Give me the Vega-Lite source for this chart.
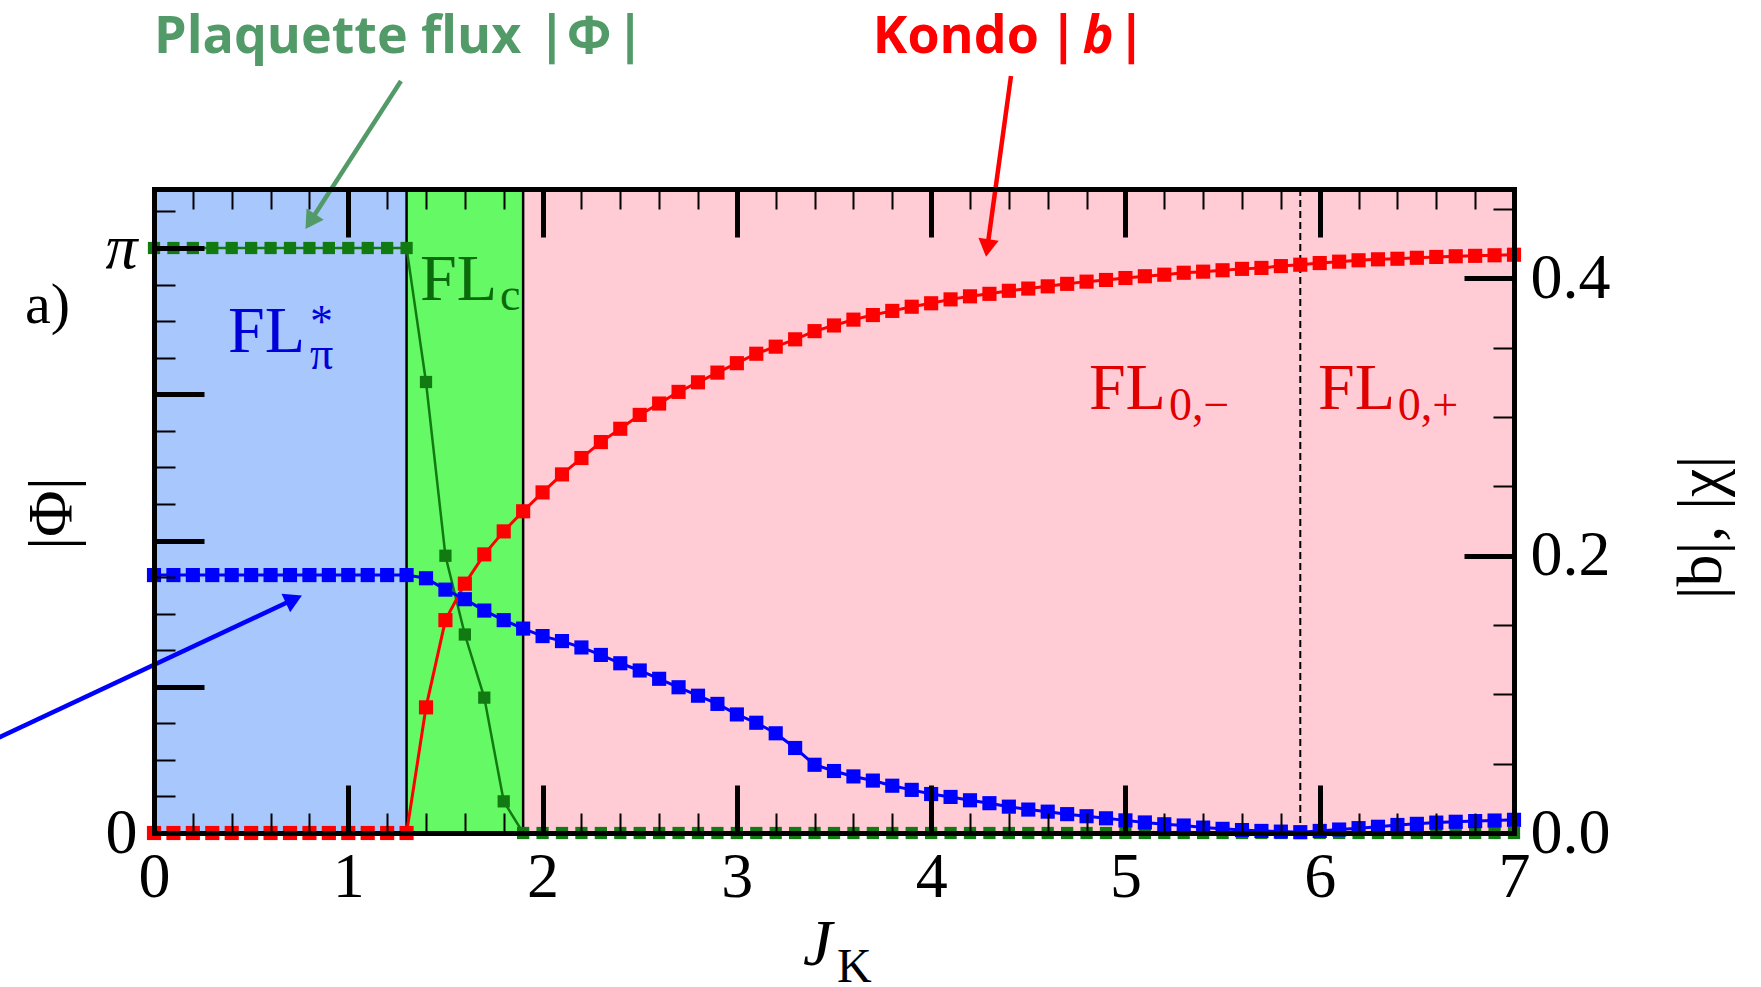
{
 "$schema": "https://vega.github.io/schema/vega-lite/v6.json",
 "width": 1360,
 "height": 644,
 "autosize": {"type": "none"},
 "padding": {"left": 154, "top": 189, "right": 247, "bottom": 154},
 "background": "white",
 "config": {
  "view": {"stroke": null},
  "axis": {"grid": false, "labelFont": "Liberation Serif", "titleFont": "Liberation Serif", "tickColor": "black", "domainColor": "black", "labelColor": "black", "titleColor": "black", "labelFlush": false, "labelOverlap": false, "labelBound": false, "titleFontWeight": "normal", "domainCap": "square"}
 },
 "resolve": {"scale": {"y": "independent", "color": "independent"}, "axis": {"x": "independent", "y": "independent"}},
 "datasets": {
  "regions": [
   {"x0": 0, "x1": 1.3, "phase": "pi"},
   {"x0": 1.3, "x1": 1.9, "phase": "c"},
   {"x0": 1.9, "x1": 5.9, "phase": "m"},
   {"x0": 5.9, "x1": 7, "phase": "p"}
  ],
  "series": [
   {"x":0,"s":"phi","v":3.1416},{"x":0.1,"s":"phi","v":3.1416},{"x":0.2,"s":"phi","v":3.1416},{"x":0.3,"s":"phi","v":3.1416},{"x":0.4,"s":"phi","v":3.1416},{"x":0.5,"s":"phi","v":3.1416},{"x":0.6,"s":"phi","v":3.1416},{"x":0.7,"s":"phi","v":3.1416},{"x":0.8,"s":"phi","v":3.1416},{"x":0.9,"s":"phi","v":3.1416},{"x":1.0,"s":"phi","v":3.1416},{"x":1.1,"s":"phi","v":3.1416},{"x":1.2,"s":"phi","v":3.1416},{"x":1.3,"s":"phi","v":3.1416},
   {"x":1.4,"s":"phi","v":2.422},{"x":1.5,"s":"phi","v":1.489},{"x":1.6,"s":"phi","v":1.066},{"x":1.7,"s":"phi","v":0.727},{"x":1.8,"s":"phi","v":0.17},
   {"x":1.9,"s":"phi","v":0},{"x":2.0,"s":"phi","v":0},{"x":2.1,"s":"phi","v":0},{"x":2.2,"s":"phi","v":0},{"x":2.3,"s":"phi","v":0},{"x":2.4,"s":"phi","v":0},{"x":2.5,"s":"phi","v":0},{"x":2.6,"s":"phi","v":0},{"x":2.7,"s":"phi","v":0},{"x":2.8,"s":"phi","v":0},{"x":2.9,"s":"phi","v":0},{"x":3.0,"s":"phi","v":0},{"x":3.1,"s":"phi","v":0},{"x":3.2,"s":"phi","v":0},{"x":3.3,"s":"phi","v":0},{"x":3.4,"s":"phi","v":0},{"x":3.5,"s":"phi","v":0},{"x":3.6,"s":"phi","v":0},{"x":3.7,"s":"phi","v":0},{"x":3.8,"s":"phi","v":0},{"x":3.9,"s":"phi","v":0},{"x":4.0,"s":"phi","v":0},{"x":4.1,"s":"phi","v":0},{"x":4.2,"s":"phi","v":0},{"x":4.3,"s":"phi","v":0},{"x":4.4,"s":"phi","v":0},{"x":4.5,"s":"phi","v":0},{"x":4.6,"s":"phi","v":0},{"x":4.7,"s":"phi","v":0},{"x":4.8,"s":"phi","v":0},{"x":4.9,"s":"phi","v":0},{"x":5.0,"s":"phi","v":0},{"x":5.1,"s":"phi","v":0},{"x":5.2,"s":"phi","v":0},{"x":5.3,"s":"phi","v":0},{"x":5.4,"s":"phi","v":0},{"x":5.5,"s":"phi","v":0},{"x":5.6,"s":"phi","v":0},{"x":5.7,"s":"phi","v":0},{"x":5.8,"s":"phi","v":0},{"x":5.9,"s":"phi","v":0},{"x":6.0,"s":"phi","v":0},{"x":6.1,"s":"phi","v":0},{"x":6.2,"s":"phi","v":0},{"x":6.3,"s":"phi","v":0},{"x":6.4,"s":"phi","v":0},{"x":6.5,"s":"phi","v":0},{"x":6.6,"s":"phi","v":0},{"x":6.7,"s":"phi","v":0},{"x":6.8,"s":"phi","v":0},{"x":6.9,"s":"phi","v":0},{"x":7.0,"s":"phi","v":0},
   {"x":0,"s":"b","v":0},{"x":0.1,"s":"b","v":0},{"x":0.2,"s":"b","v":0},{"x":0.3,"s":"b","v":0},{"x":0.4,"s":"b","v":0},{"x":0.5,"s":"b","v":0},{"x":0.6,"s":"b","v":0},{"x":0.7,"s":"b","v":0},{"x":0.8,"s":"b","v":0},{"x":0.9,"s":"b","v":0},{"x":1.0,"s":"b","v":0},{"x":1.1,"s":"b","v":0},{"x":1.2,"s":"b","v":0},{"x":1.3,"s":"b","v":0},
   {"x":1.4,"s":"b","v":0.0906},{"x":1.5,"s":"b","v":0.1535},{"x":1.6,"s":"b","v":0.1798},{"x":1.7,"s":"b","v":0.2009},{"x":1.8,"s":"b","v":0.2175},{"x":1.9,"s":"b","v":0.232},{"x":2.0,"s":"b","v":0.2456},{"x":2.1,"s":"b","v":0.2586},{"x":2.2,"s":"b","v":0.2704},{"x":2.3,"s":"b","v":0.2819},{"x":2.4,"s":"b","v":0.2915},{"x":2.5,"s":"b","v":0.3015},{"x":2.6,"s":"b","v":0.3097},{"x":2.7,"s":"b","v":0.3181},{"x":2.8,"s":"b","v":0.325},{"x":2.9,"s":"b","v":0.332},{"x":3.0,"s":"b","v":0.3388},{"x":3.1,"s":"b","v":0.3456},{"x":3.2,"s":"b","v":0.3507},{"x":3.3,"s":"b","v":0.356},{"x":3.4,"s":"b","v":0.3619},{"x":3.5,"s":"b","v":0.366},{"x":3.6,"s":"b","v":0.3702},{"x":3.7,"s":"b","v":0.3735},{"x":3.8,"s":"b","v":0.3765},{"x":3.9,"s":"b","v":0.3795},{"x":4.0,"s":"b","v":0.382},{"x":4.1,"s":"b","v":0.3848},{"x":4.2,"s":"b","v":0.387},{"x":4.3,"s":"b","v":0.3888},{"x":4.4,"s":"b","v":0.391},{"x":4.5,"s":"b","v":0.3926},{"x":4.6,"s":"b","v":0.3942},{"x":4.7,"s":"b","v":0.396},{"x":4.8,"s":"b","v":0.3976},{"x":4.9,"s":"b","v":0.3988},{"x":5.0,"s":"b","v":0.4002},{"x":5.1,"s":"b","v":0.4015},{"x":5.2,"s":"b","v":0.4026},{"x":5.3,"s":"b","v":0.404},{"x":5.4,"s":"b","v":0.4048},{"x":5.5,"s":"b","v":0.4058},{"x":5.6,"s":"b","v":0.4068},{"x":5.7,"s":"b","v":0.4075},{"x":5.8,"s":"b","v":0.4088},{"x":5.9,"s":"b","v":0.4098},{"x":6.0,"s":"b","v":0.411},{"x":6.1,"s":"b","v":0.412},{"x":6.2,"s":"b","v":0.413},{"x":6.3,"s":"b","v":0.4137},{"x":6.4,"s":"b","v":0.4141},{"x":6.5,"s":"b","v":0.4148},{"x":6.6,"s":"b","v":0.4154},{"x":6.7,"s":"b","v":0.4159},{"x":6.8,"s":"b","v":0.4162},{"x":6.9,"s":"b","v":0.4166},{"x":7.0,"s":"b","v":0.417},
   {"x":0,"s":"chi","v":0.186},{"x":0.1,"s":"chi","v":0.186},{"x":0.2,"s":"chi","v":0.186},{"x":0.3,"s":"chi","v":0.186},{"x":0.4,"s":"chi","v":0.186},{"x":0.5,"s":"chi","v":0.186},{"x":0.6,"s":"chi","v":0.186},{"x":0.7,"s":"chi","v":0.186},{"x":0.8,"s":"chi","v":0.186},{"x":0.9,"s":"chi","v":0.186},{"x":1.0,"s":"chi","v":0.186},{"x":1.1,"s":"chi","v":0.186},{"x":1.2,"s":"chi","v":0.186},{"x":1.3,"s":"chi","v":0.186},
   {"x":1.4,"s":"chi","v":0.1837},{"x":1.5,"s":"chi","v":0.1755},{"x":1.6,"s":"chi","v":0.1686},{"x":1.7,"s":"chi","v":0.1604},{"x":1.8,"s":"chi","v":0.1535},{"x":1.9,"s":"chi","v":0.1474},{"x":2.0,"s":"chi","v":0.142},{"x":2.1,"s":"chi","v":0.1384},{"x":2.2,"s":"chi","v":0.1338},{"x":2.3,"s":"chi","v":0.1284},{"x":2.4,"s":"chi","v":0.1224},{"x":2.5,"s":"chi","v":0.1172},{"x":2.6,"s":"chi","v":0.1112},{"x":2.7,"s":"chi","v":0.1051},{"x":2.8,"s":"chi","v":0.099},{"x":2.9,"s":"chi","v":0.0931},{"x":3.0,"s":"chi","v":0.0855},{"x":3.1,"s":"chi","v":0.0795},{"x":3.2,"s":"chi","v":0.0719},{"x":3.3,"s":"chi","v":0.0613},{"x":3.4,"s":"chi","v":0.0492},{"x":3.5,"s":"chi","v":0.0447},{"x":3.6,"s":"chi","v":0.0408},{"x":3.7,"s":"chi","v":0.0378},{"x":3.8,"s":"chi","v":0.0341},{"x":3.9,"s":"chi","v":0.0311},{"x":4.0,"s":"chi","v":0.0281},{"x":4.1,"s":"chi","v":0.026},{"x":4.2,"s":"chi","v":0.0236},{"x":4.3,"s":"chi","v":0.0215},{"x":4.4,"s":"chi","v":0.019},{"x":4.5,"s":"chi","v":0.0169},{"x":4.6,"s":"chi","v":0.0154},{"x":4.7,"s":"chi","v":0.0136},{"x":4.8,"s":"chi","v":0.0121},{"x":4.9,"s":"chi","v":0.0106},{"x":5.0,"s":"chi","v":0.0091},{"x":5.1,"s":"chi","v":0.0076},{"x":5.2,"s":"chi","v":0.0063},{"x":5.3,"s":"chi","v":0.0054},{"x":5.4,"s":"chi","v":0.0039},{"x":5.5,"s":"chi","v":0.003},{"x":5.6,"s":"chi","v":0.0021},{"x":5.7,"s":"chi","v":0.0015},{"x":5.8,"s":"chi","v":0.001},{"x":5.9,"s":"chi","v":0.0006},{"x":6.0,"s":"chi","v":0.0015},{"x":6.1,"s":"chi","v":0.0025},{"x":6.2,"s":"chi","v":0.0035},{"x":6.3,"s":"chi","v":0.0045},{"x":6.4,"s":"chi","v":0.0058},{"x":6.5,"s":"chi","v":0.0066},{"x":6.6,"s":"chi","v":0.0075},{"x":6.7,"s":"chi","v":0.0081},{"x":6.8,"s":"chi","v":0.0086},{"x":6.9,"s":"chi","v":0.009},{"x":7.0,"s":"chi","v":0.0095}
  ],
  "labels": [
   {"t": "FL", "kind": "main", "g": "pi", "x": 0.381, "y": 0.3469},
   {"t": "*", "kind": "sub", "g": "pi", "x": 0.803, "y": 0.3577},
   {"t": "π", "kind": "sub", "g": "pi", "x": 0.803, "y": 0.3346},
   {"t": "FL", "kind": "main", "g": "c", "x": 1.369, "y": 0.3844},
   {"t": "c", "kind": "sub", "g": "c", "x": 1.781, "y": 0.3772},
   {"t": "FL", "kind": "main", "g": "zero", "x": 4.812, "y": 0.3058},
   {"t": "0,−", "kind": "sub", "g": "zero", "x": 5.224, "y": 0.2978},
   {"t": "FL", "kind": "main", "g": "zero", "x": 5.991, "y": 0.3058},
   {"t": "0,+", "kind": "sub", "g": "zero", "x": 6.402, "y": 0.2978}
  ],
  "misc": [
   {"t": "a)", "kind": "a", "x": -0.664, "y": 0.3678},
   {"t": "J", "kind": "J", "x": 3.34, "y": -0.0955},
   {"t": "K", "kind": "K", "x": 3.515, "y": -0.1075}
  ],
  "ann": [
   {"t": "Plaquette flux", "kind": "left", "g": "green", "x": 0, "y": 0.5625},
   {"t": "|", "kind": "mid", "g": "green", "x": 2.048, "y": 0.5625},
   {"t": "Φ", "kind": "mid", "g": "green", "x": 2.24, "y": 0.5625},
   {"t": "|", "kind": "mid", "g": "green", "x": 2.45, "y": 0.5625},
   {"t": "Kondo", "kind": "left", "g": "red", "x": 3.70, "y": 0.5625},
   {"t": "|", "kind": "mid", "g": "red", "x": 4.68, "y": 0.5625},
   {"t": "b", "kind": "ital", "g": "red", "x": 4.86, "y": 0.5625},
   {"t": "|", "kind": "mid", "g": "red", "x": 5.03, "y": 0.5625}
  ],
  "arrows": [
   {"a": "green", "x": 1.271, "y": 0.5423, "x2": 0.8045, "y2": 0.4409},
   {"a": "red", "x": 4.411, "y": 0.5459, "x2": 4.289, "y2": 0.4218},
   {"a": "blue", "x": -0.803, "y": 0.0685, "x2": 0.72, "y2": 0.1686}
  ]
 },
 "layer": [
  {
   "data": {"name": "regions"},
   "mark": {"type": "rect", "strokeWidth": 0},
   "encoding": {
    "x": {"field": "x0", "type": "quantitative", "scale": {"domain": [0, 7], "nice": false, "zero": false},
     "axis": {"zindex": 2, "orient": "bottom", "values": [0,1,2,3,4,5,6,7], "format": "d", "tickSize": -48, "tickWidth": 5, "domainWidth": 5, "labelFontSize": 64, "labelPadding": 60, "title": null}},
    "x2": {"field": "x1"},
    "color": {"field": "phase", "type": "nominal", "scale": {"domain": ["pi","c","m","p"], "range": ["#a8c8fd","#66f966","#ffccd6","#ffccd6"]}, "legend": null}
   }
  },
  {
   "data": {"name": "regions"},
   "transform": [{"filter": "datum.phase == 'c' || datum.phase == 'm'"}],
   "mark": {"type": "rule", "color": "black", "strokeWidth": 2.5},
   "encoding": {
    "x": {"field": "x0", "type": "quantitative", "scale": {"domain": [0, 7], "nice": false, "zero": false},
     "axis": {"zindex": 2, "orient": "bottom", "values": [0.2,0.4,0.6,0.8,1.2,1.4,1.6,1.8,2.2,2.4,2.6,2.8,3.2,3.4,3.6,3.8,4.2,4.4,4.6,4.8,5.2,5.4,5.6,5.8,6.2,6.4,6.6,6.8], "tickSize": -20, "tickWidth": 2, "labels": false, "domain": false, "title": null}}
   }
  },
  {
   "data": {"name": "regions"},
   "transform": [{"filter": "datum.phase == 'p'"}],
   "mark": {"type": "rule", "color": "black", "strokeWidth": 2, "strokeDash": [7, 4]},
   "encoding": {
    "x": {"field": "x0", "type": "quantitative", "scale": {"domain": [0, 7], "nice": false, "zero": false},
     "axis": {"zindex": 2, "orient": "top", "values": [0,1,2,3,4,5,6,7], "tickSize": -48, "tickWidth": 5, "domainWidth": 5, "labels": false, "title": null}}
   }
  },
  {
   "data": {"name": "series"},
   "transform": [{"filter": "datum.s == 'phi'"}],
   "mark": {"type": "line", "color": "#117a11", "strokeWidth": 2.5},
   "encoding": {
    "x": {"field": "x", "type": "quantitative", "scale": {"domain": [0, 7], "nice": false, "zero": false},
     "axis": {"zindex": 2, "orient": "top", "values": [0.2,0.4,0.6,0.8,1.2,1.4,1.6,1.8,2.2,2.4,2.6,2.8,3.2,3.4,3.6,3.8,4.2,4.4,4.6,4.8,5.2,5.4,5.6,5.8,6.2,6.4,6.6,6.8], "tickSize": -20, "tickWidth": 2, "labels": false, "domain": false, "title": null}},
    "y": {"field": "v", "type": "quantitative", "scale": {"domain": [0, 3.4585], "nice": false, "zero": false},
     "axis": {"zindex": 2, "orient": "left", "values": [0, 0.785398, 1.570796, 2.356194, 3.141593], "tickSize": -50, "tickWidth": 5, "domainWidth": 5,
      "labelExpr": "datum.value < 0.01 ? '0' : (datum.value > 3 ? 'π' : '')",
      "labelFontStyle": {"condition": {"test": "datum.value > 3", "value": "italic"}, "value": "normal"},
      "labelFontSize": 64, "labelPadding": 67, "labelBaseline": "middle",
      "title": "|Φ|", "titleFontSize": 64, "titleX": -102, "titleY": 324, "titleAngle": 270, "titleAlign": "center", "titleBaseline": "middle"}}
   }
  },
  {
   "data": {"name": "series"},
   "transform": [{"filter": "datum.s == 'phi'"}],
   "mark": {"type": "point", "shape": "square", "filled": true, "opacity": 1, "color": "#117a11", "size": 150},
   "encoding": {
    "x": {"field": "x", "type": "quantitative", "scale": {"domain": [0, 7], "nice": false, "zero": false}, "axis": null},
    "y": {"field": "v", "type": "quantitative", "scale": {"domain": [0, 3.4585], "nice": false, "zero": false},
     "axis": {"zindex": 2, "orient": "left", "values": [0.19635, 0.392699, 0.589049, 0.981748, 1.178097, 1.374447, 1.767146, 1.963495, 2.159845, 2.552544, 2.748894, 2.945243, 3.337942], "tickSize": -21, "tickWidth": 2, "labels": false, "domain": false, "title": null}}
   }
  },
  {
   "data": {"name": "series"},
   "transform": [{"filter": "datum.s != 'phi'"}],
   "mark": {"type": "line", "strokeWidth": 3},
   "encoding": {
    "x": {"field": "x", "type": "quantitative", "scale": {"domain": [0, 7], "nice": false, "zero": false}, "axis": null},
    "y": {"field": "v", "type": "quantitative", "scale": {"domain": [0, 0.4644], "nice": false, "zero": false},
     "axis": {"zindex": 2, "orient": "right", "values": [0, 0.2, 0.4], "format": ".1f", "tickSize": -50, "tickWidth": 5, "domainWidth": 5,
      "labelFontSize": 64, "labelPadding": 66, "labelBaseline": "middle",
      "title": "|b|, |χ|", "titleFontSize": 64, "titleX": 187, "titleY": 338, "titleAngle": 270, "titleAlign": "center", "titleBaseline": "middle"}},
    "color": {"field": "s", "type": "nominal", "scale": {"domain": ["b", "chi"], "range": ["#ff0000", "#0000ff"]}, "legend": null}
   }
  },
  {
   "data": {"name": "series"},
   "transform": [{"filter": "datum.s != 'phi'"}],
   "mark": {"type": "point", "shape": "square", "filled": true, "opacity": 1, "size": 200},
   "encoding": {
    "x": {"field": "x", "type": "quantitative", "scale": {"domain": [0, 7], "nice": false, "zero": false}, "axis": null},
    "y": {"field": "v", "type": "quantitative", "scale": {"domain": [0, 0.4644], "nice": false, "zero": false},
     "axis": {"zindex": 2, "orient": "right", "values": [0.05, 0.1, 0.15, 0.25, 0.3, 0.35, 0.45], "tickSize": -21, "tickWidth": 2, "labels": false, "domain": false, "title": null}},
    "color": {"field": "s", "type": "nominal", "scale": {"domain": ["b", "chi"], "range": ["#ff0000", "#0000ff"]}, "legend": null}
   }
  },
  {
   "data": {"name": "labels"},
   "transform": [{"filter": "datum.kind == 'main'"}],
   "mark": {"type": "text", "font": "Liberation Serif", "fontSize": 66, "align": "left", "baseline": "alphabetic"},
   "encoding": {
    "x": {"field": "x", "type": "quantitative", "scale": {"domain": [0, 7], "nice": false, "zero": false}, "axis": null},
    "y": {"field": "y", "type": "quantitative", "scale": {"domain": [0, 0.4644], "nice": false, "zero": false}, "axis": null},
    "text": {"field": "t"},
    "color": {"field": "g", "type": "nominal", "scale": {"domain": ["pi", "c", "zero"], "range": ["#0000d8", "#0b6a0b", "#e00000"]}, "legend": null}
   }
  },
  {
   "data": {"name": "labels"},
   "transform": [{"filter": "datum.kind == 'sub'"}],
   "mark": {"type": "text", "font": "Liberation Serif", "fontSize": 46, "align": "left", "baseline": "alphabetic"},
   "encoding": {
    "x": {"field": "x", "type": "quantitative", "scale": {"domain": [0, 7], "nice": false, "zero": false}, "axis": null},
    "y": {"field": "y", "type": "quantitative", "scale": {"domain": [0, 0.4644], "nice": false, "zero": false}, "axis": null},
    "text": {"field": "t"},
    "color": {"field": "g", "type": "nominal", "scale": {"domain": ["pi", "c", "zero"], "range": ["#0000d8", "#0b6a0b", "#e00000"]}, "legend": null}
   }
  },
  {
   "data": {"name": "misc"},
   "transform": [{"filter": "datum.kind == 'a'"}],
   "mark": {"type": "text", "font": "Liberation Serif", "fontSize": 58, "align": "left", "baseline": "alphabetic", "color": "black"},
   "encoding": {
    "x": {"field": "x", "type": "quantitative", "scale": {"domain": [0, 7], "nice": false, "zero": false}, "axis": null},
    "y": {"field": "y", "type": "quantitative", "scale": {"domain": [0, 0.4644], "nice": false, "zero": false}, "axis": null},
    "text": {"field": "t"}
   }
  },
  {
   "data": {"name": "misc"},
   "transform": [{"filter": "datum.kind == 'J'"}],
   "mark": {"type": "text", "font": "Liberation Serif", "fontSize": 66, "fontStyle": "italic", "align": "left", "baseline": "alphabetic", "color": "black"},
   "encoding": {
    "x": {"field": "x", "type": "quantitative", "scale": {"domain": [0, 7], "nice": false, "zero": false}, "axis": null},
    "y": {"field": "y", "type": "quantitative", "scale": {"domain": [0, 0.4644], "nice": false, "zero": false}, "axis": null},
    "text": {"field": "t"}
   }
  },
  {
   "data": {"name": "misc"},
   "transform": [{"filter": "datum.kind == 'K'"}],
   "mark": {"type": "text", "font": "Liberation Serif", "fontSize": 48, "align": "left", "baseline": "alphabetic", "color": "black"},
   "encoding": {
    "x": {"field": "x", "type": "quantitative", "scale": {"domain": [0, 7], "nice": false, "zero": false}, "axis": null},
    "y": {"field": "y", "type": "quantitative", "scale": {"domain": [0, 0.4644], "nice": false, "zero": false}, "axis": null},
    "text": {"field": "t"}
   }
  },
  {
   "data": {"name": "ann"},
   "transform": [{"filter": "datum.kind == 'left'"}],
   "mark": {"type": "text", "font": "Open Sans", "fontWeight": "bold", "fontSize": 52, "align": "left", "baseline": "alphabetic"},
   "encoding": {
    "x": {"field": "x", "type": "quantitative", "scale": {"domain": [0, 7], "nice": false, "zero": false}, "axis": null},
    "y": {"field": "y", "type": "quantitative", "scale": {"domain": [0, 0.4644], "nice": false, "zero": false}, "axis": null},
    "text": {"field": "t"},
    "color": {"field": "g", "type": "nominal", "scale": {"domain": ["green", "red"], "range": ["#529a68", "#ff0000"]}, "legend": null}
   }
  },
  {
   "data": {"name": "ann"},
   "transform": [{"filter": "datum.kind == 'mid'"}],
   "mark": {"type": "text", "font": "Open Sans", "fontWeight": "bold", "fontSize": 52, "align": "center", "baseline": "alphabetic"},
   "encoding": {
    "x": {"field": "x", "type": "quantitative", "scale": {"domain": [0, 7], "nice": false, "zero": false}, "axis": null},
    "y": {"field": "y", "type": "quantitative", "scale": {"domain": [0, 0.4644], "nice": false, "zero": false}, "axis": null},
    "text": {"field": "t"},
    "color": {"field": "g", "type": "nominal", "scale": {"domain": ["green", "red"], "range": ["#529a68", "#ff0000"]}, "legend": null}
   }
  },
  {
   "data": {"name": "ann"},
   "transform": [{"filter": "datum.kind == 'ital'"}],
   "mark": {"type": "text", "font": "Open Sans", "fontWeight": "bold", "fontStyle": "italic", "fontSize": 52, "align": "center", "baseline": "alphabetic", "color": "#ff0000"},
   "encoding": {
    "x": {"field": "x", "type": "quantitative", "scale": {"domain": [0, 7], "nice": false, "zero": false}, "axis": null},
    "y": {"field": "y", "type": "quantitative", "scale": {"domain": [0, 0.4644], "nice": false, "zero": false}, "axis": null},
    "text": {"field": "t"}
   }
  },
  {
   "data": {"name": "arrows"},
   "mark": {"type": "rule", "strokeWidth": 4.5},
   "encoding": {
    "x": {"field": "x", "type": "quantitative", "scale": {"domain": [0, 7], "nice": false, "zero": false}, "axis": null},
    "y": {"field": "y", "type": "quantitative", "scale": {"domain": [0, 0.4644], "nice": false, "zero": false}, "axis": null},
    "x2": {"field": "x2"},
    "y2": {"field": "y2"},
    "color": {"field": "a", "type": "nominal", "scale": {"domain": ["green", "red", "blue"], "range": ["#529a68", "#ff0000", "#0000ff"]}, "legend": null}
   }
  },
  {
   "data": {"name": "arrows"},
   "transform": [{"filter": "datum.a == 'green'"}],
   "mark": {"type": "point", "shape": "triangle-up", "filled": true, "opacity": 1, "size": 420, "angle": 213, "color": "#529a68"},
   "encoding": {
    "x": {"field": "x2", "type": "quantitative", "scale": {"domain": [0, 7], "nice": false, "zero": false}, "axis": null},
    "y": {"field": "y2", "type": "quantitative", "scale": {"domain": [0, 0.4644], "nice": false, "zero": false}, "axis": null}
   }
  },
  {
   "data": {"name": "arrows"},
   "transform": [{"filter": "datum.a == 'red'"}],
   "mark": {"type": "point", "shape": "triangle-up", "filled": true, "opacity": 1, "size": 420, "angle": 188, "color": "#ff0000"},
   "encoding": {
    "x": {"field": "x2", "type": "quantitative", "scale": {"domain": [0, 7], "nice": false, "zero": false}, "axis": null},
    "y": {"field": "y2", "type": "quantitative", "scale": {"domain": [0, 0.4644], "nice": false, "zero": false}, "axis": null}
   }
  },
  {
   "data": {"name": "arrows"},
   "transform": [{"filter": "datum.a == 'blue'"}],
   "mark": {"type": "point", "shape": "triangle-up", "filled": true, "opacity": 1, "size": 420, "angle": 65, "color": "#0000ff"},
   "encoding": {
    "x": {"field": "x2", "type": "quantitative", "scale": {"domain": [0, 7], "nice": false, "zero": false}, "axis": null},
    "y": {"field": "y2", "type": "quantitative", "scale": {"domain": [0, 0.4644], "nice": false, "zero": false}, "axis": null}
   }
  }
 ]
}
